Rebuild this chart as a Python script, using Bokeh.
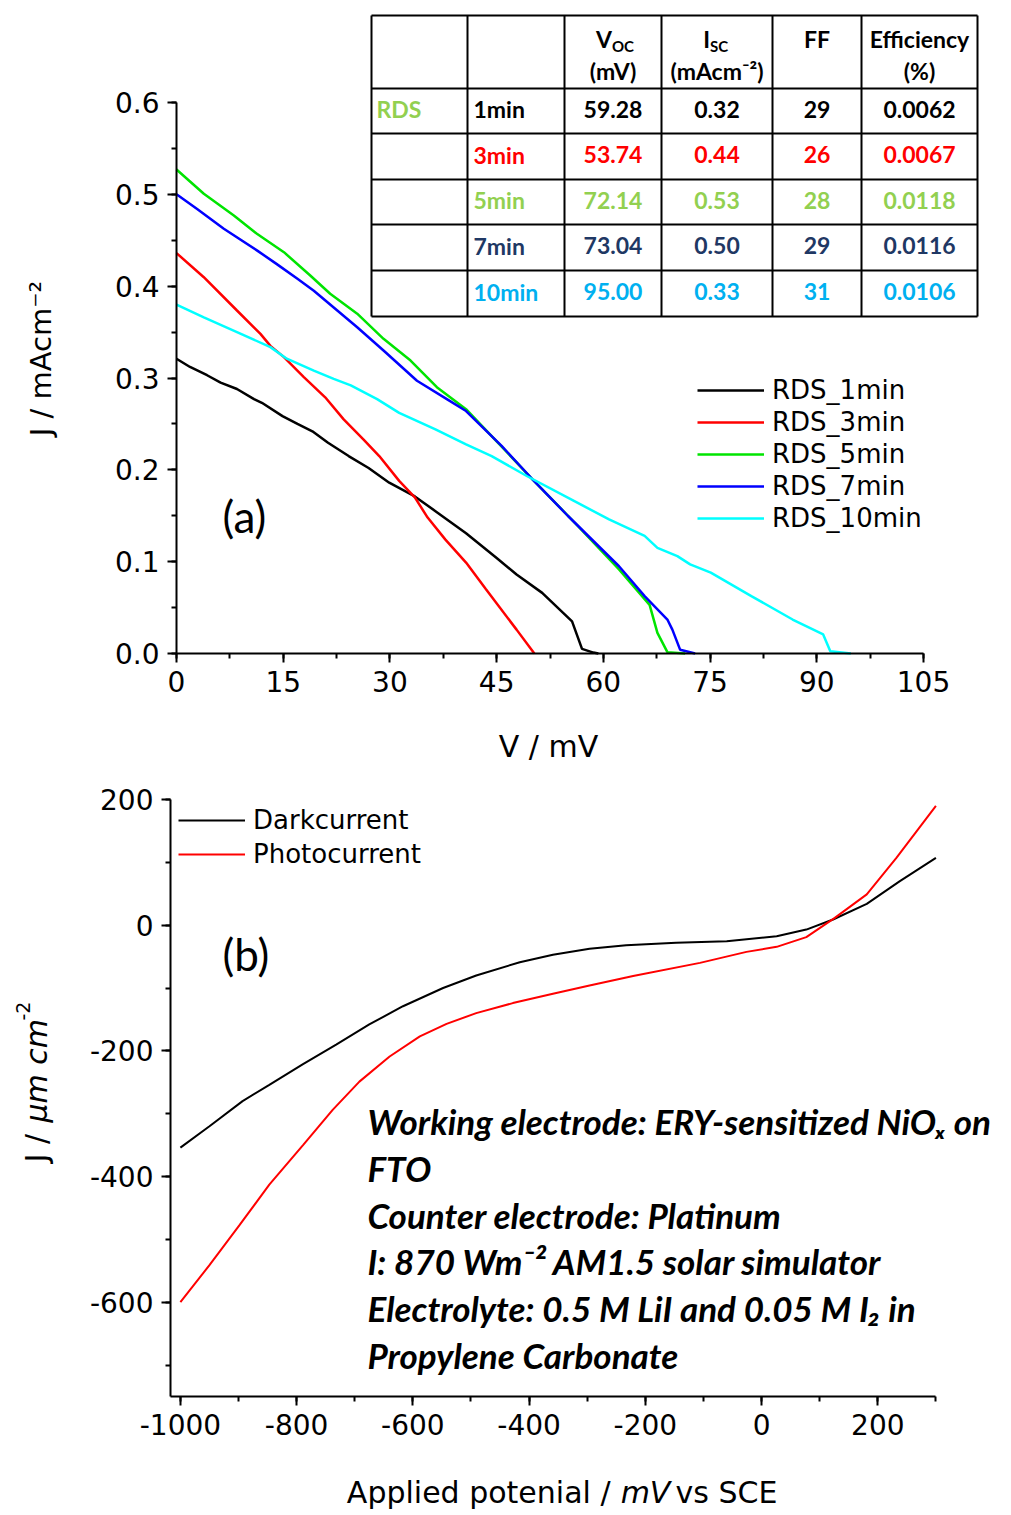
from bokeh.core.properties import value
from bokeh.plotting import figure
from bokeh.layouts import column
from bokeh.models import (Range1d, Label, Legend, LegendItem, SingleIntervalTicker,
                          PrintfTickFormatter, ColumnDataSource)
from bokeh.embed import file_html
from bokeh.resources import INLINE

# ---------------- data: panel (a) J-V curves ----------------
v_1min = [0, 1.9, 4.3, 6.2, 8.5, 10.9, 12.0, 14.9, 17.0, 19.1, 21.3, 24.2, 27.0, 29.9, 33.5,
          36.4, 40.7, 45.0, 47.8, 51.4, 55.6, 57.0, 58.6, 59.3]
j_1min = [0.321, 0.312, 0.303, 0.295, 0.288, 0.277, 0.273, 0.2585, 0.250, 0.242, 0.2295, 0.215,
          0.202, 0.186, 0.171, 0.155, 0.131, 0.104, 0.086, 0.066, 0.035, 0.005, 0.001, 0.0]
v_3min = [0, 3.8, 8.5, 11.8, 13.2, 15.1, 17.9, 20.9, 23.5, 26.3, 28.5, 31.3, 33.5, 35.3, 37.8,
          40.7, 43.5, 47.8, 50.3]
j_3min = [0.436, 0.41, 0.3735, 0.348, 0.335, 0.3227, 0.301, 0.279, 0.255, 0.233, 0.215, 0.188,
          0.170, 0.148, 0.124, 0.099, 0.070, 0.026, 0.0]
v_5min = [0, 3.84, 8.06, 11.3, 15.1, 18.8, 21.6, 25.4, 29.1, 32.9, 36.6, 40.7, 45.0, 50.0, 56.4,
          62.2, 66.5, 67.6, 69.0, 71.5]
j_5min = [0.527, 0.5006, 0.477, 0.457, 0.437, 0.4116, 0.3917, 0.370, 0.3427, 0.319, 0.290, 0.266,
          0.231, 0.19, 0.139, 0.0915, 0.053, 0.0225, 0.0015, 0.0]
v_7min = [0, 2.9, 6.65, 11.3, 14.1, 17.0, 19.3, 22.6, 25.4, 29.1, 33.8, 38.0, 40.7, 45.7, 50.0,
          55.0, 62.2, 65.8, 69.0, 69.7, 70.8, 72.9]
j_7min = [0.500, 0.484, 0.4625, 0.439, 0.424, 0.408, 0.395, 0.3735, 0.3553, 0.33, 0.297, 0.277,
          0.264, 0.226, 0.19, 0.150, 0.095, 0.0625, 0.037, 0.026, 0.004, 0.0]
v_10min = [0, 3.84, 8.5, 13.2, 15.5, 19.3, 22.1, 24.5, 28.2, 31.3, 36.4, 40.7, 44.3, 49.3, 56.4,
           60.8, 65.8, 67.6, 70.4, 72.2, 75.1, 80.8, 86.6, 90.9, 91.9, 94.8]
j_10min = [0.380, 0.366, 0.350, 0.3336, 0.321, 0.308, 0.299, 0.292, 0.277, 0.262, 0.244, 0.2277,
           0.215, 0.193, 0.164, 0.146, 0.128, 0.115, 0.106, 0.097, 0.088, 0.0625, 0.037, 0.0207,
           0.0025, 0.0]
series_a_names = ["RDS_1min", "RDS_3min", "RDS_5min", "RDS_7min", "RDS_10min"]
series_a_colors = ["#000000", "#FF0000", "#00E400", "#0000FF", "#00FFFF"]

# ---------------- data: table ----------------
tbl_times = ["1min", "3min", "5min", "7min", "10min"]
tbl_voc = ["59.28", "53.74", "72.14", "73.04", "95.00"]
tbl_isc = ["0.32", "0.44", "0.53", "0.50", "0.33"]
tbl_ff = ["29", "26", "28", "29", "31"]
tbl_eff = ["0.0062", "0.0067", "0.0118", "0.0116", "0.0106"]
tbl_colors = ["#000000", "#FF0000", "#92D050", "#1F3864", "#00B0F0"]

# ---------------- data: panel (b) ----------------
v_dark = [-1000, -950, -893, -847, -789, -732, -675, -617, -548, -491, -416, -359, -296, -233,
          -147, -60, 26, 77, 123, 181, 238, 300]
j_dark = [-354, -320, -280, -254, -221, -190, -158, -129, -100, -80, -59, -47, -37.5, -32, -28,
          -25.5, -17.5, -7, 9, 34, 70, 107]
v_photo = [-1000, -950, -898, -847, -789, -738, -692, -640, -588, -542, -491, -428, -359, -296,
           -221, -106, -26, 26, 77, 126, 181, 232, 300]
j_photo = [-600, -541, -477, -413, -350, -294, -249, -209, -177, -157, -140, -124, -109, -96,
           -81, -60, -42.5, -34.5, -19, 11.7, 49, 107, 190]

note_lines = ["Working electrode: ERY-sensitized NiOₓ on", "FTO", "Counter electrode: Platinum",
              "I: 870 Wm⁻² AM1.5 solar simulator", "Electrolyte: 0.5 M LiI and 0.05 M I₂ in",
              "Propylene Carbonate"]

# ---------------- geometry (page pixels; canvas starts at page 0,0) ----------------
W = 1008
A_H = 770
B_H = 744
FONT = "DejaVu Sans"

A_XS = 747 / 105.0     # px per mV   (0 -> 176, 105 -> 923)
A_YS = 551 / 0.6       # px per mA/cm2 (0 -> 653, 0.6 -> 102)


def ax(px):
    return (px - 176) / A_XS


def ay(py):
    return (653 - py) / A_YS


B_XS = 697.4 / 1200.0  # -1000 -> 179.9
B_YS = 502.7 / 800.0   # 200 -> 799


def bx(px):
    return -1000 + (px - 179.9) / B_XS


def by(py):
    return 200 - (py - 799) / B_YS


def style_axis(axis, size):
    axis.axis_line_width = 2
    axis.axis_line_color = "black"
    axis.major_tick_line_width = 2
    axis.minor_tick_line_width = 2
    axis.major_tick_line_color = "black"
    axis.minor_tick_line_color = "black"
    axis.major_tick_out = 9
    axis.major_tick_in = 0
    axis.minor_tick_out = 5
    axis.minor_tick_in = 0
    axis.major_label_text_font = FONT
    axis.major_label_text_font_size = size
    axis.major_label_text_color = "black"
    axis.major_label_standoff = 8


def txt(p, x, y, text, size, font=FONT, style="normal", align="left", angle=0, color="black"):
    p.add_layout(Label(x=x, y=y, text=text, text_font=font, text_font_size=size,
                       text_font_style=style, text_align=align, text_baseline="middle",
                       angle=angle, angle_units="deg", text_color=color))


# ================= panel (a) =================
pa = figure(width=W, height=A_H,
            x_range=Range1d(ax(0), ax(W)), y_range=Range1d(ay(A_H), ay(0)),
            output_backend="svg", toolbar_location=None,
            min_border_left=0, min_border_right=0, min_border_top=0, min_border_bottom=0)
pa.outline_line_color = None
pa.grid.visible = False
pa.xaxis.fixed_location = 0
pa.yaxis.fixed_location = 0
pa.xaxis.bounds = (0, 105)
pa.yaxis.bounds = (0, 0.6001)
pa.xaxis.ticker = SingleIntervalTicker(interval=15, num_minor_ticks=2)
pa.yaxis.ticker = SingleIntervalTicker(interval=0.1, num_minor_ticks=2)
pa.yaxis.formatter = PrintfTickFormatter(format="%.1f")
pa.xaxis.formatter = PrintfTickFormatter(format="%d")
style_axis(pa.xaxis[0], "28px")
style_axis(pa.yaxis[0], "28px")

renderers_a = []
for vs, js, col in zip([v_1min, v_3min, v_5min, v_7min, v_10min],
                       [j_1min, j_3min, j_5min, j_7min, j_10min], series_a_colors):
    renderers_a.append(pa.line(vs, js, line_color=col, line_width=2.5))

leg_a = Legend(items=[LegendItem(label=n, renderers=[r]) for n, r in zip(series_a_names, renderers_a)],
               location=(697, A_H - (374 + 5 * 32)))
leg_a.border_line_color = None
leg_a.background_fill_alpha = 0
leg_a.padding = 0
leg_a.margin = 0
leg_a.spacing = 0
leg_a.glyph_width = 67
leg_a.glyph_height = 32
leg_a.label_height = 32
leg_a.label_standoff = 8
leg_a.label_text_font = FONT
leg_a.label_text_font_size = "26px"
leg_a.label_text_color = "black"
pa.add_layout(leg_a)

txt(pa, ax(222), ay(515), "(a)", "44px", font="Lato")
txt(pa, ax(548), ay(746), "V / mV", "30px", align="center")
txt(pa, ax(40), ay(358), "J / mAcm⁻²", "29px", align="center", angle=90)

# ---- table (drawn in panel a) ----
t_cols = [371, 467, 564, 661, 772, 861, 977]
t_rows = [15, 88, 133, 179, 224, 270, 316]
pa.quad(left=ax(t_cols[0]), right=ax(t_cols[-1]), top=ay(t_rows[0]), bottom=ay(t_rows[-1]),
        fill_color="white", line_color=None)
hx0, hx1, hy0, hy1 = [], [], [], []
for r in t_rows:
    hx0.append(ax(t_cols[0])); hx1.append(ax(t_cols[-1])); hy0.append(ay(r)); hy1.append(ay(r))
for c in t_cols:
    hx0.append(ax(c)); hx1.append(ax(c)); hy0.append(ay(t_rows[0])); hy1.append(ay(t_rows[-1]))
pa.segment(x0=hx0, y0=hy0, x1=hx1, y1=hy1, line_color="black", line_width=2)

row_cy = [(t_rows[i + 1] + t_rows[i + 2]) / 2 - 2 for i in range(5)]
col_cx = [(t_cols[i] + t_cols[i + 1]) / 2 for i in range(2, 6)]

c_x, c_y, c_t, c_c = [], [], [], []
l_x, l_y, l_t, l_c = [], [], [], []
for i in range(5):
    l_x.append(ax(t_cols[1] + 6)); l_y.append(ay(row_cy[i])); l_t.append(tbl_times[i]); l_c.append(tbl_colors[i])
    for cx, vals in zip(col_cx, [tbl_voc, tbl_isc, tbl_ff, tbl_eff]):
        c_x.append(ax(cx)); c_y.append(ay(row_cy[i])); c_t.append(vals[i]); c_c.append(tbl_colors[i])
l_x.append(ax(t_cols[0] + 5)); l_y.append(ay(row_cy[0])); l_t.append("RDS"); l_c.append("#92D050")

tfont = dict(text_font=value("Lato"), text_font_style="bold", text_font_size="23px",
             text_baseline="middle")
pa.text(x="x", y="y", text="t", text_color="c", text_align="center",
        source=ColumnDataSource(dict(x=c_x, y=c_y, t=c_t, c=c_c)), **tfont)
pa.text(x="x", y="y", text="t", text_color="c", text_align="left",
        source=ColumnDataSource(dict(x=l_x, y=l_y, t=l_t, c=l_c)), **tfont)

hdr = [(col_cx[0], 70, "(mV)"), (col_cx[1], 70, "(mAcm⁻²)"), (col_cx[2], 38, "FF"),
       (col_cx[3], 38, "Efficiency"), (col_cx[3], 70, "(%)")]
pa.text(x=[ax(h[0]) for h in hdr], y=[ay(h[1]) for h in hdr], text=[h[2] for h in hdr],
        text_color="black", text_align="center", **tfont)
pa.text(x=[ax(col_cx[0] - 1), ax(col_cx[1] - 7)], y=[ay(38), ay(38)], text=["V", "I"],
        text_color="black", text_align="right", **tfont)
pa.text(x=[ax(col_cx[0] - 1), ax(col_cx[1] - 7)], y=[ay(45), ay(45)], text=["OC", "SC"],
        text_color="black", text_align="left", text_font=value("Lato"), text_font_style="bold",
        text_font_size="15px", text_baseline="middle")

# ================= panel (b) =================
B_TOP = A_H   # page y of this canvas
pb = figure(width=W, height=B_H,
            x_range=Range1d(bx(0), bx(W)), y_range=Range1d(by(B_TOP + B_H), by(B_TOP)),
            output_backend="svg", toolbar_location=None,
            min_border_left=0, min_border_right=0, min_border_top=0, min_border_bottom=0)
pb.outline_line_color = None
pb.grid.visible = False
pb.xaxis.fixed_location = by(1396)
pb.yaxis.fixed_location = bx(170)
pb.xaxis.bounds = (bx(170), 300)
pb.yaxis.bounds = (by(1396), 200)
pb.xaxis.ticker = SingleIntervalTicker(interval=200, num_minor_ticks=2)
pb.yaxis.ticker = SingleIntervalTicker(interval=200, num_minor_ticks=2)
pb.xaxis.formatter = PrintfTickFormatter(format="%d")
pb.yaxis.formatter = PrintfTickFormatter(format="%d")
style_axis(pb.xaxis[0], "28px")
style_axis(pb.yaxis[0], "28px")

r_dark = pb.line(v_dark, j_dark, line_color="black", line_width=2)
r_photo = pb.line(v_photo, j_photo, line_color="#FF0000", line_width=2)
leg_b = Legend(items=[LegendItem(label="Darkcurrent", renderers=[r_dark]),
                      LegendItem(label="Photocurrent", renderers=[r_photo])],
               location=(178, B_H - (803 + 68 - B_TOP)))
leg_b.border_line_color = None
leg_b.background_fill_alpha = 0
leg_b.padding = 0
leg_b.margin = 0
leg_b.spacing = 0
leg_b.glyph_width = 67
leg_b.glyph_height = 34
leg_b.label_height = 34
leg_b.label_standoff = 8
leg_b.label_text_font = FONT
leg_b.label_text_font_size = "26px"
leg_b.label_text_color = "black"
pb.add_layout(leg_b)

txt(pb, bx(222), by(953), "(b)", "44px", font="Lato")
line_y = [1120, 1167, 1214, 1260, 1307, 1354]
for t, yy in zip(note_lines, line_y):
    txt(pb, bx(367), by(yy), t, "35px", font="Lato", style="bold italic")

# x axis title (mixed styles)
txt(pb, bx(610), by(1492), "Applied potenial /", "30px", align="right")
txt(pb, bx(645), by(1492), "mV", "30px", style="italic", align="center")
txt(pb, bx(675), by(1492), "vs SCE", "30px")
# y axis title
txt(pb, bx(36), by(1162), "J /", "30px", angle=90)
txt(pb, bx(36), by(1122), "μm cm", "30px", style="italic", angle=90)
txt(pb, bx(22), by(1020), "-2", "19px", angle=90)

layout = column(pa, pb, spacing=0)
open("out.html", "w").write(file_html(layout, INLINE))
